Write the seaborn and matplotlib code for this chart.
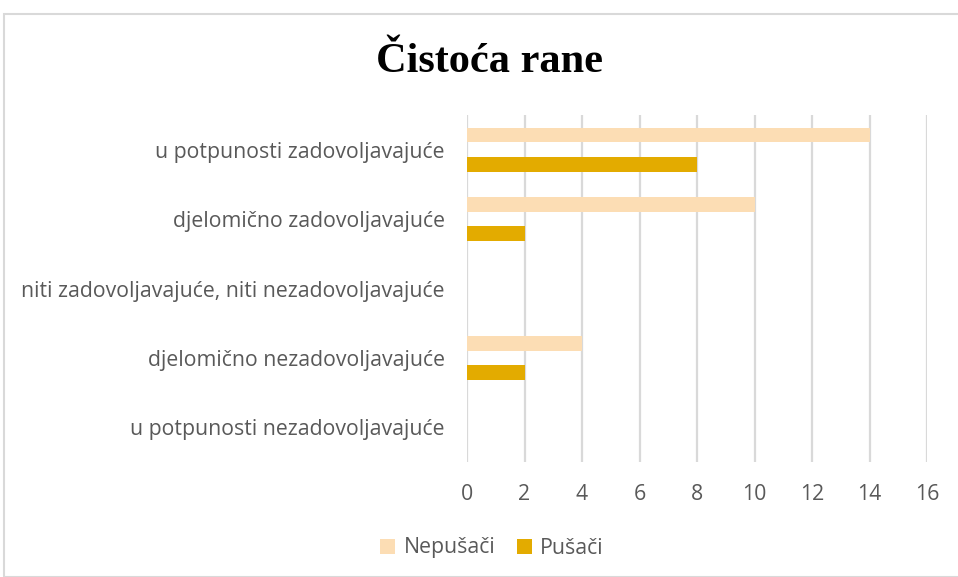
import matplotlib
matplotlib.use("Agg")
import matplotlib.pyplot as plt
import seaborn as sns
import pandas as pd
from matplotlib.patches import Rectangle, Patch

categories = [
    "u potpunosti zadovoljavajuće",
    "djelomično zadovoljavajuće",
    "niti zadovoljavajuće, niti nezadovoljavajuće",
    "djelomično nezadovoljavajuće",
    "u potpunosti nezadovoljavajuće",
]
series_names = ["Nepušači", "Pušači"]
nepusaci = [14, 10, 0, 4, 0]
pusaci = [8, 2, 0, 2, 0]
x_ticks = [0, 2, 4, 6, 8, 10, 12, 14, 16]

df = pd.DataFrame({
    "kategorija": categories * 2,
    "skupina": [series_names[0]] * len(categories) + [series_names[1]] * len(categories),
    "broj": nepusaci + pusaci,
})

sns.set_theme(style="white")
plt.rcParams["font.family"] = ["Open Sans", "DejaVu Sans"]

W, H = 958, 577
fig = plt.figure(figsize=(W / 100, H / 100), dpi=100)
ax = fig.add_axes([467 / W, 1 - 462 / H, (927 - 467) / W, (462 - 115) / H])

palette = {"Nepušači": "#FCDDB4", "Pušači": "#E3AB00"}
sns.barplot(data=df, x="broj", y="kategorija", hue="skupina", order=categories,
            hue_order=series_names, palette=palette, orient="h", width=0.84,
            gap=0.5, ax=ax, saturation=1, legend=False, linewidth=0)

ax.set_xlim(0, 16)
ax.set_xticks(x_ticks)
ax.set_xticklabels([str(t) for t in x_ticks])
ax.xaxis.grid(True, color="#d9d9d9", linewidth=1.6)
ax.set_axisbelow(True)
for s in ax.spines.values():
    s.set_visible(False)
ax.tick_params(axis="both", length=0, labelsize=15.3, labelcolor="#595959")
ax.tick_params(axis="y", pad=16)
ax.tick_params(axis="x", pad=16)
ax.set_xlabel("")
ax.set_ylabel("")

fig.text(489 / W, 1 - 62 / H, "Čistoća rane", ha="center", va="center",
         fontsize=30.5, fontweight="bold", family=["Liberation Serif", "DejaVu Serif"],
         color="black")

handles = [Patch(facecolor=palette[n], edgecolor="none", label=n) for n in series_names]
fig.legend(handles=handles, loc="center", bbox_to_anchor=(492 / W, 1 - 548 / H),
           ncol=2, frameon=False, fontsize=15.3, handlelength=0.7, handleheight=0.7,
           handletextpad=0.4, columnspacing=1.0, labelcolor="#595959")

fig.patches.append(Rectangle((4 / W, 0), 1.2, 1 - 14 / H, transform=fig.transFigure,
                             fill=False, edgecolor="#d9d9d9", linewidth=1.5))

fig.savefig("out.png", dpi=100)
